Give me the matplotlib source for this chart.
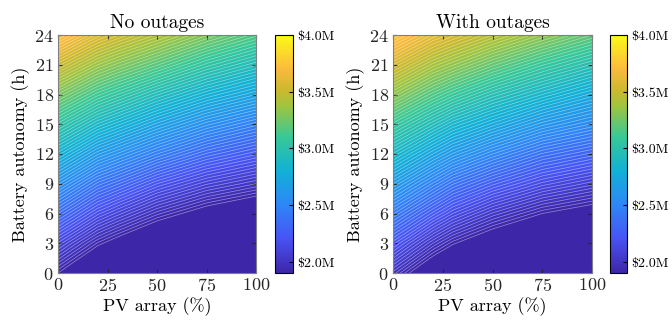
import numpy as np
import matplotlib
matplotlib.use("Agg")
import matplotlib.pyplot as plt
from matplotlib.colors import LinearSegmentedColormap, Normalize
from matplotlib.cm import ScalarMappable

plt.rcParams['font.family'] = 'cmr10'
plt.rcParams['axes.formatter.use_mathtext'] = True

# grid: PV array size (%) and battery autonomy (h)
pv = [0, 20, 30, 50, 75, 100]
battery = [0, 3, 6, 9, 12, 15, 18, 21, 24]

# total cost ($M), one row per battery level
cost_no_outages = [
    [1.90, 1.68, 1.61, 1.47, 1.36, 1.30],
    [2.12, 1.92, 1.85, 1.72, 1.60, 1.53],
    [2.35, 2.16, 2.09, 1.96, 1.84, 1.76],
    [2.58, 2.39, 2.33, 2.20, 2.08, 2.00],
    [2.81, 2.63, 2.57, 2.45, 2.32, 2.23],
    [3.04, 2.87, 2.81, 2.69, 2.56, 2.46],
    [3.27, 3.11, 3.05, 2.93, 2.80, 2.70],
    [3.51, 3.35, 3.29, 3.18, 3.04, 2.93],
    [3.76, 3.59, 3.53, 3.42, 3.28, 3.16],
]
cost_with_outages = [
    [1.99, 1.77, 1.68, 1.55, 1.43, 1.37],
    [2.21, 2.00, 1.91, 1.79, 1.67, 1.60],
    [2.43, 2.24, 2.15, 2.02, 1.90, 1.83],
    [2.65, 2.47, 2.38, 2.26, 2.14, 2.06],
    [2.87, 2.70, 2.62, 2.50, 2.37, 2.29],
    [3.09, 2.93, 2.85, 2.74, 2.61, 2.52],
    [3.32, 3.16, 3.09, 2.97, 2.85, 2.74],
    [3.55, 3.39, 3.33, 3.21, 3.08, 2.97],
    [3.78, 3.62, 3.56, 3.45, 3.32, 3.20],
]
titles = ['No outages', 'With outages']
cbar_ticks = [2.0, 2.5, 3.0, 3.5, 4.0]
cbar_labels = ['\\$2.0M', '\\$2.5M', '\\$3.0M', '\\$3.5M', '\\$4.0M']

# parula-like colormap
parula = LinearSegmentedColormap.from_list('parula', [
    (0.000, (0.2422, 0.1504, 0.6603)),
    (0.143, (0.2810, 0.3228, 0.9579)),
    (0.286, (0.1786, 0.5289, 0.9682)),
    (0.429, (0.0689, 0.6948, 0.8394)),
    (0.571, (0.2161, 0.7843, 0.5923)),
    (0.700, (0.6200, 0.7700, 0.2500)),
    (0.770, (0.8000, 0.7250, 0.1800)),
    (0.860, (0.9900, 0.7300, 0.2400)),
    (1.000, (0.9769, 0.9839, 0.0805))], N=256)
parula.set_under(parula(0.0))

vmin, vmax = 1.9, 4.0
levels = np.arange(vmin, vmax + 0.001, 0.025)

fig = plt.figure(figsize=(6.72, 3.2), dpi=100)
ax_pos = [[58/672, 47/320, 198/672, 238/320], [393/672, 47/320, 199/672, 238/320]]
cb_pos = [[275/672, 47/320, 18/672, 238/320], [610/672, 47/320, 17/672, 238/320]]

for i, data in enumerate([cost_no_outages, cost_with_outages]):
    norm = Normalize(vmin, vmax)
    ax = fig.add_axes(ax_pos[i])
    X, Y = np.meshgrid(pv, battery)
    Z = np.array(data)
    ax.contourf(X, Y, Z, levels=levels, cmap=parula, norm=norm, extend='min')
    ax.contour(X, Y, Z, levels=levels, colors='white', linewidths=0.5, alpha=0.45)
    ax.set_xlim(0, 100)
    ax.set_ylim(0, 24)
    ax.set_xticks([0, 25, 50, 75, 100])
    ax.set_yticks(range(0, 25, 3))
    ax.tick_params(direction='in', top=True, right=True, length=3, width=0.8,
                   labelsize=13, pad=3, colors='0.15')
    ax.set_xlabel('PV array (%)', fontsize=13, labelpad=2)
    ax.set_ylabel('Battery autonomy (h)', fontsize=13, labelpad=3)
    ax.set_title(titles[i], fontsize=14, pad=5)
    for sp in ax.spines.values():
        sp.set_color('0.5')
        sp.set_linewidth(0.8)

    cax = fig.add_axes(cb_pos[i])
    cb = fig.colorbar(ScalarMappable(norm=Normalize(vmin, vmax), cmap=parula), cax=cax)
    cb.set_ticks(cbar_ticks)
    cb.set_ticklabels(cbar_labels)
    cax.tick_params(direction='in', length=3, width=0.8, labelsize=10, pad=3)
    cb.outline.set_linewidth(0.8)

plt.savefig('out.png', dpi=100)
plt.close()
